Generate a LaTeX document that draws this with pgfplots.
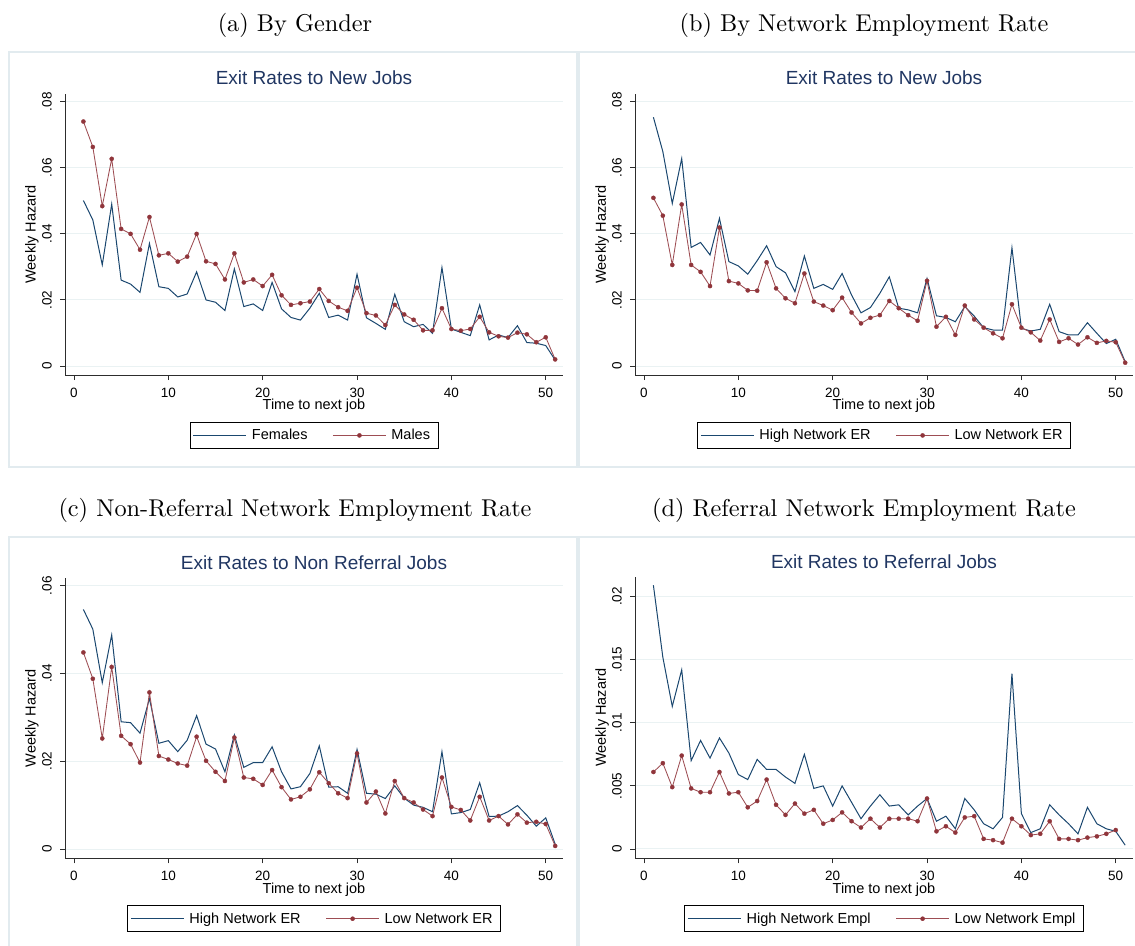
\documentclass[border=0pt]{standalone}
\usepackage{fontspec}
\usepackage{pgfplots}
\pgfplotsset{compat=1.18}
\newfontfamily\stata{Liberation Sans}
\newfontfamily\capfont{lmroman10-regular.otf}

\definecolor{stnavy}{RGB}{26,71,111}
\definecolor{stmaroon}{RGB}{144,53,59}
\definecolor{gridc}{RGB}{234,242,243}
\definecolor{boxc}{RGB}{226,235,239}
\definecolor{titlec}{RGB}{32,54,98}
\definecolor{axisc}{RGB}{45,45,45}

\pgfplotsset{
  stata/.style={
    scale only axis, width=498pt, height=281pt,
    axis x line=bottom, axis y line=left,
    axis line style={-, draw=axisc, line width=0.9pt},
    xmin=-0.95, xmax=51.83,
    xtick={0,10,20,30,40,50}, xticklabels={0,10,20,30,40,50},
    scaled x ticks=false, scaled y ticks=false,
    tick align=outside, major tick length=5pt,
    every tick/.style={draw=axisc, line width=0.9pt},
    ymajorgrids, major grid style={draw=gridc, line width=1pt},
    xticklabel style={font=\stata\fontsize{13.5}{15}\selectfont, anchor=center, yshift=-13pt},
    yticklabel style={font=\stata\fontsize{13.5}{15}\selectfont, xshift=-13pt, rotate=90, anchor=center},
    every axis x label/.style={at={(axis description cs:0.5,0)}, anchor=center, yshift=-31pt,
      font=\stata\fontsize{14.5}{16}\selectfont},
    every axis y label/.style={at={(axis description cs:0,0.5)}, xshift=-33pt, rotate=90, anchor=center,
      font=\stata\fontsize{14.5}{16}\selectfont},
    xlabel={Time to next job}, ylabel={Weekly Hazard},
    title style={at={(axis description cs:0.5,1)}, anchor=center, yshift=10pt,
      font=\stata\fontsize{19}{22}\selectfont, text=titlec},
    legend columns=2,
    legend style={at={(0.5,0)}, anchor=north, yshift=-47pt, draw=black, line width=0.8pt, fill=white,
      font=\stata\fontsize{14.5}{16}\selectfont, inner xsep=3pt, inner ysep=2pt,
      nodes={inner xsep=5pt, inner ysep=5pt},
      /tikz/every even column/.append style={column sep=20pt}},
    legend image code/.code={\draw[mark repeat=2,mark phase=2,#1] plot coordinates {(0pt,0pt) (26.5pt,0pt) (53pt,0pt)};},
  },
  bluel/.style={stnavy, line width=1pt, mark=none},
  redl/.style={stmaroon!88!white, line width=0.85pt, mark=*, mark size=2.1pt,
    mark options={solid, fill=stmaroon, draw=stmaroon, line width=0.3pt}},
}

\begin{document}
\begin{tikzpicture}[x=1pt,y=1pt]
\useasboundingbox (0pt,0pt) rectangle (1135pt,-945pt);

% panel frames
\draw[boxc, line width=1.5pt] (9pt,-52pt) rectangle (577pt,-467pt);
\draw[boxc, line width=1.5pt] (579pt,-52pt) rectangle (1147pt,-467pt);
\draw[boxc, line width=1.5pt] (9pt,-537pt) rectangle (577pt,-960pt);
\draw[boxc, line width=1.5pt] (579pt,-537pt) rectangle (1147pt,-960pt);

% sub-captions
\begin{scope}[every node/.style={font=\capfont\fontsize{24.3}{28}\selectfont, anchor=center}]
\node at (295pt,-25pt) {(a) By Gender};
\node at (864pt,-25pt) {(b) By Network Employment Rate};
\node at (295pt,-510pt) {(c) Non-Referral Network Employment Rate};
\node at (864pt,-510pt) {(d) Referral Network Employment Rate};
\end{scope}

% (a) by gender
\begin{axis}[stata, at={(65pt,-375pt)}, anchor=south west,
  ymin=-0.00272, ymax=0.08233,
  ytick={0,0.02,0.04,0.06,0.08}, yticklabels={0,.02,.04,.06,.08},
  title={Exit Rates to New Jobs}]
\addplot[bluel] coordinates {(1,.0501)(2,.0442)(3,.0306)(4,.0490)(5,.0260)(6,.0248)(7,.0223)(8,.0371)(9,.0240)(10,.0235)
(11,.0209)(12,.0218)(13,.0285)(14,.0200)(15,.0193)(16,.0168)(17,.0294)(18,.0180)(19,.0188)(20,.0168)
(21,.0253)(22,.0173)(23,.0147)(24,.0139)(25,.0175)(26,.0220)(27,.0147)(28,.0154)(29,.0139)(30,.0278)
(31,.0146)(32,.0129)(33,.0111)(34,.0217)(35,.0134)(36,.0119)(37,.0126)(38,.0099)(39,.0298)(40,.0112)
(41,.0102)(42,.0092)(43,.0185)(44,.0079)(45,.0094)(46,.0086)(47,.0122)(48,.0071)(49,.0069)(50,.0062)(51,.0018)};
\addlegendentry{Females}
\addplot[redl] coordinates {(1,.0740)(2,.0663)(3,.0484)(4,.0627)(5,.0415)(6,.0400)(7,.0352)(8,.0451)(9,.0335)(10,.0341)
(11,.0316)(12,.0331)(13,.0400)(14,.0317)(15,.0309)(16,.0262)(17,.0341)(18,.0253)(19,.0262)(20,.0242)
(21,.0276)(22,.0214)(23,.0185)(24,.0190)(25,.0195)(26,.0233)(27,.0197)(28,.0178)(29,.0167)(30,.0237)
(31,.0160)(32,.0153)(33,.0124)(34,.0185)(35,.0156)(36,.0140)(37,.0108)(38,.0108)(39,.0175)(40,.0112)
(41,.0107)(42,.0112)(43,.0149)(44,.0102)(45,.0090)(46,.0086)(47,.0101)(48,.0096)(49,.0072)(50,.0087)(51,.0020)};
\addlegendentry{Males}
\end{axis}

% (b) by network employment rate
\begin{axis}[stata, at={(635pt,-375pt)}, anchor=south west,
  ymin=-0.00272, ymax=0.08233,
  ytick={0,0.02,0.04,0.06,0.08}, yticklabels={0,.02,.04,.06,.08},
  title={Exit Rates to New Jobs}]
\addplot[bluel] coordinates {(1,.0753)(2,.0649)(3,.0492)(4,.0628)(5,.0359)(6,.0374)(7,.0336)(8,.0447)(9,.0316)(10,.0303)
(11,.0278)(12,.0319)(13,.0364)(14,.0301)(15,.0282)(16,.0225)(17,.0333)(18,.0235)(19,.0247)(20,.0232)
(21,.0280)(22,.0215)(23,.0161)(24,.0177)(25,.0220)(26,.0270)(27,.0175)(28,.0170)(29,.0161)(30,.0265)
(31,.0152)(32,.0147)(33,.0134)(34,.0180)(35,.0151)(36,.0116)(37,.0109)(38,.0109)(39,.0358)(40,.0114)
(41,.0106)(42,.0111)(43,.0187)(44,.0104)(45,.0094)(46,.0094)(47,.0131)(48,.0099)(49,.0068)(50,.0081)(51,.0013)};
\addlegendentry{High Network ER}
\addplot[redl] coordinates {(1,.0509)(2,.0455)(3,.0306)(4,.0489)(5,.0306)(6,.0285)(7,.0242)(8,.0419)(9,.0257)(10,.0250)
(11,.0229)(12,.0228)(13,.0314)(14,.0235)(15,.0205)(16,.0190)(17,.0280)(18,.0195)(19,.0183)(20,.0169)
(21,.0207)(22,.0162)(23,.0129)(24,.0146)(25,.0154)(26,.0197)(27,.0175)(28,.0154)(29,.0137)(30,.0258)
(31,.0119)(32,.0149)(33,.0094)(34,.0183)(35,.0141)(36,.0116)(37,.0099)(38,.0084)(39,.0187)(40,.0116)
(41,.0102)(42,.0077)(43,.0141)(44,.0073)(45,.0084)(46,.0065)(47,.0087)(48,.0070)(49,.0076)(50,.0072)(51,.0010)};
\addlegendentry{Low Network ER}
\end{axis}

% (c) non-referral network employment rate
\begin{axis}[stata, at={(65pt,-858.3pt)}, anchor=south west, height=280pt,
  ymin=-0.00212, ymax=0.0617,
  ytick={0,0.02,0.04,0.06}, yticklabels={0,.02,.04,.06},
  title={Exit Rates to Non Referral Jobs}]
\addplot[bluel] coordinates {(1,.0546)(2,.0501)(3,.0379)(4,.0488)(5,.0290)(6,.0288)(7,.0264)(8,.0343)(9,.0241)(10,.0247)
(11,.0222)(12,.0248)(13,.0304)(14,.0239)(15,.0228)(16,.0176)(17,.0260)(18,.0186)(19,.0197)(20,.0197)
(21,.0233)(22,.0176)(23,.0137)(24,.0142)(25,.0172)(26,.0235)(27,.0141)(28,.0142)(29,.0127)(30,.0227)
(31,.0127)(32,.0125)(33,.0115)(34,.0144)(35,.0116)(36,.0100)(37,.0095)(38,.0085)(39,.0222)(40,.0080)
(41,.0083)(42,.0090)(43,.0151)(44,.0074)(45,.0075)(46,.0085)(47,.0099)(48,.0077)(49,.0052)(50,.0071)(51,.0011)};
\addlegendentry{High Network ER}
\addplot[redl] coordinates {(1,.0448)(2,.0388)(3,.0252)(4,.0415)(5,.0258)(6,.0239)(7,.0197)(8,.0357)(9,.0212)(10,.0204)
(11,.0195)(12,.0190)(13,.0256)(14,.0201)(15,.0176)(16,.0155)(17,.0254)(18,.0163)(19,.0160)(20,.0146)
(21,.0180)(22,.0141)(23,.0113)(24,.0119)(25,.0136)(26,.0175)(27,.0150)(28,.0127)(29,.0116)(30,.0218)
(31,.0106)(32,.0131)(33,.0081)(34,.0155)(35,.0116)(36,.0106)(37,.0090)(38,.0075)(39,.0163)(40,.0096)
(41,.0089)(42,.0065)(43,.0119)(44,.0065)(45,.0075)(46,.0056)(47,.0079)(48,.0060)(49,.0062)(50,.0057)(51,.0007)};
\addlegendentry{Low Network ER}
\end{axis}

% (d) referral network employment rate
\begin{axis}[stata, at={(635pt,-858.3pt)}, anchor=south west,
  ymin=-0.00074, ymax=0.02153,
  ytick={0,0.005,0.01,0.015,0.02}, yticklabels={0,.005,.01,.015,.02},
  title={Exit Rates to Referral Jobs}]
\addplot[bluel] coordinates {(1,.0209)(2,.0152)(3,.0113)(4,.0142)(5,.0070)(6,.0086)(7,.0072)(8,.0088)(9,.0076)(10,.0059)
(11,.0055)(12,.0071)(13,.0063)(14,.0063)(15,.0057)(16,.0052)(17,.0075)(18,.0048)(19,.0050)(20,.0034)
(21,.0050)(22,.0037)(23,.0024)(24,.0034)(25,.0043)(26,.0034)(27,.0035)(28,.0027)(29,.0034)(30,.0040)
(31,.0022)(32,.0026)(33,.0016)(34,.0040)(35,.0031)(36,.0020)(37,.0016)(38,.0025)(39,.0139)(40,.0028)
(41,.0013)(42,.0016)(43,.0035)(44,.0027)(45,.0020)(46,.0012)(47,.0033)(48,.0020)(49,.0016)(50,.0014)(51,.0003)};
\addlegendentry{High Network Empl}
\addplot[redl] coordinates {(1,.0061)(2,.0068)(3,.0049)(4,.0074)(5,.0048)(6,.0045)(7,.0045)(8,.0061)(9,.0044)(10,.0045)
(11,.0033)(12,.0038)(13,.0055)(14,.0035)(15,.0027)(16,.0036)(17,.0028)(18,.0031)(19,.0020)(20,.0023)
(21,.0029)(22,.0022)(23,.0017)(24,.0024)(25,.0017)(26,.0024)(27,.0024)(28,.0024)(29,.0022)(30,.0040)
(31,.0014)(32,.0018)(33,.0013)(34,.0025)(35,.0026)(36,.0008)(37,.0007)(38,.0005)(39,.0024)(40,.0018)
(41,.0011)(42,.0012)(43,.0022)(44,.0008)(45,.0008)(46,.0007)(47,.0009)(48,.0010)(49,.0012)(50,.0015)};
\addlegendentry{Low Network Empl}
\end{axis}
\end{tikzpicture}
\end{document}
